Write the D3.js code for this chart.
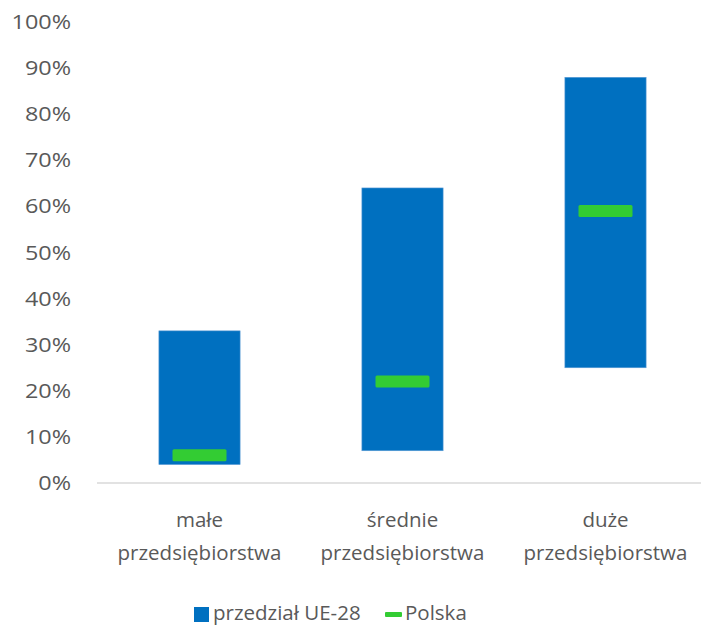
<!DOCTYPE html>
<html lang="pl">
<head>
  <meta charset="UTF-8">
  <title>Przedział UE-28 i Polska</title>
  <style>
    body { margin: 0; background: #fff; }
    svg { display: block; font-family: "Open Sans", sans-serif; }
    text { fill: #595959; }
  </style>
  <script src="https://d3js.org/d3.v7.min.js"></script>
</head>
<body>
  <svg id="chart" width="701" height="625"></svg>
  <script>
    const categories = ['małe przedsiębiorstwa', 'średnie przedsiębiorstwa', 'duże przedsiębiorstwa'];
    const rangeLow = [0.04, 0.07, 0.25];
    const rangeHigh = [0.33, 0.64, 0.88];
    const poland = [0.06, 0.22, 0.59];
    const yTicks = [0, 0.1, 0.2, 0.3, 0.4, 0.5, 0.6, 0.7, 0.8, 0.9, 1.0];

    const svg = d3.select('#chart');
    const blue = '#0070C0';
    const green = '#33CC33';

    const x = d3.scaleBand().domain(categories).range([98, 707]).paddingInner(0.6).paddingOuter(0.3);
    const y = d3.scaleLinear().domain([0, 1]).range([483, 22]);

    // y labels (reference font is wider, stretch a bit)
    svg.append('g')
      .selectAll('text')
      .data(yTicks)
      .join('text')
      .attr('x', 71)
      .attr('y', d => y(d))
      .attr('dy', '0.35em')
      .attr('text-anchor', 'end')
      .style('font-size', '20px')
      .text(d => d3.format('.0%')(d))
      .each(function() {
        const w = this.getComputedTextLength();
        d3.select(this).attr('textLength', w * 1.17).attr('lengthAdjust', 'spacingAndGlyphs');
      });

    // axis line
    svg.append('line')
      .attr('x1', 97).attr('x2', 701)
      .attr('y1', y(0)).attr('y2', y(0))
      .attr('stroke', '#d9d9d9').attr('stroke-width', 1.5);

    const data = categories.map((c, i) => ({ c, lo: rangeLow[i], hi: rangeHigh[i], pl: poland[i] }));

    svg.append('g')
      .selectAll('rect')
      .data(data)
      .join('rect')
      .attr('x', d => x(d.c))
      .attr('width', x.bandwidth())
      .attr('y', d => y(d.hi))
      .attr('height', d => y(d.lo) - y(d.hi))
      .attr('fill', blue)
      .attr('stroke', '#5b9bd5').attr('stroke-width', 0.6);

    svg.append('g')
      .selectAll('rect')
      .data(data)
      .join('rect')
      .attr('x', d => x(d.c) + x.bandwidth() / 2 - 27)
      .attr('width', 54)
      .attr('y', d => y(d.pl) - 6)
      .attr('height', 12)
      .attr('rx', 1.5)
      .attr('fill', green);

    // category labels
    const lab = svg.append('g')
      .selectAll('text')
      .data(categories)
      .join('text')
      .attr('text-anchor', 'middle')
      .style('font-size', '20.5px');
    lab.each(function(d) {
      const parts = d.split(' ');
      const t = d3.select(this);
      parts.forEach((p, i) => {
        t.append('tspan')
          .attr('x', x(d) + x.bandwidth() / 2)
          .attr('y', 527 + i * 33)
          .text(p);
      });
    });

    // legend
    const leg = svg.append('g');
    leg.append('rect').attr('x', 194).attr('y', 607).attr('width', 15).attr('height', 15).attr('fill', blue);
    leg.append('text').attr('x', 213).attr('y', 620).style('font-size', '20.5px').text('przedział UE-28');
    leg.append('rect').attr('x', 385).attr('y', 612).attr('width', 17).attr('height', 5).attr('rx', 1).attr('fill', green);
    leg.append('text').attr('x', 405).attr('y', 620).style('font-size', '20.5px').text('Polska');
  </script>
</body>
</html>
